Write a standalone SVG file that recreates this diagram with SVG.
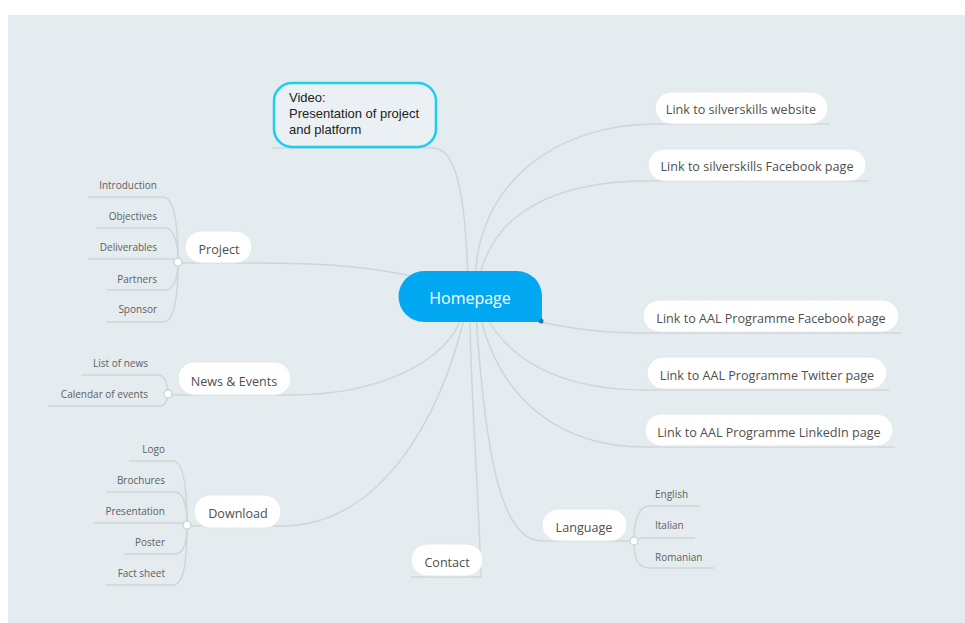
<svg xmlns="http://www.w3.org/2000/svg" width="965" height="623" viewBox="0 0 965 623">
<style>
.c{fill:none;stroke:#cfd6da;stroke-width:1.5}
.pill{fill:#ffffff;stroke:#e3e8eb;stroke-width:1}
.t{font-family:"Open Sans","Noto Sans",sans-serif;font-size:12.6px;fill:#4f4f4f}
.s{font-family:"Open Sans","Noto Sans",sans-serif;font-size:10px;fill:#606060}
.dot{fill:#ffffff;stroke:#cfd6da;stroke-width:1.5}
</style>
<rect x="8" y="15" width="957" height="608" fill="#e4ecef"/>
<g id="connectors">
<path class="c" d="M272,148 H433 C455,148 466,190 468,285"/>
<path class="c" d="M475,285 C475,180 560,124 655,124 H830"/>
<path class="c" d="M478,285 C490,210 560,181 648,181 H868"/>
<path class="c" d="M182,263 H252 C320,263 370,266 420,278"/>
<path class="c" d="M172,395 H291 C380,395 450,360 462,315"/>
<path class="c" d="M191,526 H281 C380,526 440,420 465,315"/>
<path class="c" d="M411,577 H481 C478,480 470,380 470,315"/>
<path class="c" d="M630,541 H542 C500,541 485,450 476,315"/>
<path class="c" d="M480,315 C500,400 560,447 645,447 H895"/>
<path class="c" d="M485,315 C510,360 560,390 647,390 H889"/>
<path class="c" d="M540,322 C570,328 600,333 643,333 H901"/>
<path class="c" d="M88,197 H163 C172,197 178,215 178,262"/>
<path class="c" d="M96,228 H165 C173,228 178,240 178,262"/>
<path class="c" d="M88,259 H170 Q176,259 178,262"/>
<path class="c" d="M107,290 H165 C173,290 178,280 178,262"/>
<path class="c" d="M106,322 H163 C172,322 178,305 178,262"/>
<path class="c" d="M81,375 H158 C165,375 168,385 168,394"/>
<path class="c" d="M48,406 H160 C165,406 168,400 168,394"/>
<path class="c" d="M129,461 H173 C182,461 187,480 187,525"/>
<path class="c" d="M106,492 H175 C183,492 187,505 187,525"/>
<path class="c" d="M94,523 H187"/>
<path class="c" d="M124,554 H175 C183,554 187,545 187,525"/>
<path class="c" d="M106,585 H173 C182,585 187,570 187,525"/>
<path class="c" d="M634,541 C634,520 638,506 650,506 H700"/>
<path class="c" d="M634,541 C634,540 638,538 645,538 H695"/>
<path class="c" d="M634,541 C634,560 638,568 650,568 H714"/>
</g>
<g id="homepage">
<path d="M424,271 H517 A25,25 0 0 1 542,296 V322 H424 A25.5,25.5 0 0 1 424,271 Z" fill="#02a8f2"/>
<circle cx="541" cy="321" r="2.5" fill="#0a7fc0"/>
<text x="470" y="304" text-anchor="middle" font-family="'Open Sans','Noto Sans',sans-serif" font-size="16" fill="#ffffff">Homepage</text>
</g>
<g id="video">
<rect x="274" y="83" width="162" height="64" rx="18" fill="#eaf0f3" stroke="#1ecdf4" stroke-width="2.5"/>
<text font-family="'Liberation Sans',Arial,sans-serif" font-size="13" fill="#222222"><tspan x="289" y="102">Video:</tspan><tspan x="289" y="118">Presentation of project</tspan><tspan x="289" y="134">and platform</tspan></text>
</g>
<g id="project">
<rect class="pill" x="185" y="231" width="67" height="32" rx="16"/>
<text class="t" x="219" y="254" text-anchor="middle">Project</text>
<circle class="dot" cx="178" cy="262" r="4"/>
</g>
<g id="introduction"><text class="s" x="157" y="189" text-anchor="end">Introduction</text></g>
<g id="objectives"><text class="s" x="157" y="220" text-anchor="end">Objectives</text></g>
<g id="deliverables"><text class="s" x="157" y="251" text-anchor="end">Deliverables</text></g>
<g id="partners"><text class="s" x="157" y="283" text-anchor="end">Partners</text></g>
<g id="sponsor"><text class="s" x="157" y="313" text-anchor="end">Sponsor</text></g>
<g id="news">
<rect class="pill" x="178" y="362" width="113" height="33" rx="16.5"/>
<text class="t" x="234" y="386" text-anchor="middle">News &amp; Events</text>
<circle class="dot" cx="168" cy="394" r="4"/>
</g>
<g id="listnews"><text class="s" x="148" y="367" text-anchor="end">List of news</text></g>
<g id="calendar"><text class="s" x="148" y="398" text-anchor="end">Calendar of events</text></g>
<g id="download">
<rect class="pill" x="194" y="495" width="87" height="33" rx="16.5"/>
<text class="t" x="238" y="518" text-anchor="middle">Download</text>
<circle class="dot" cx="187" cy="525" r="4"/>
</g>
<g id="logo"><text class="s" x="165" y="453" text-anchor="end">Logo</text></g>
<g id="brochures"><text class="s" x="165" y="484" text-anchor="end">Brochures</text></g>
<g id="presentation"><text class="s" x="165" y="515" text-anchor="end">Presentation</text></g>
<g id="poster"><text class="s" x="165" y="546" text-anchor="end">Poster</text></g>
<g id="factsheet"><text class="s" x="165" y="577" text-anchor="end">Fact sheet</text></g>
<g id="contact">
<rect class="pill" x="411" y="544" width="72" height="32" rx="16"/>
<text class="t" x="447" y="567" text-anchor="middle">Contact</text>
</g>
<g id="language">
<rect class="pill" x="542" y="509" width="85" height="32" rx="16"/>
<text class="t" x="584" y="532" text-anchor="middle">Language</text>
<circle class="dot" cx="634" cy="541" r="4"/>
</g>
<g id="english"><text class="s" x="655" y="498">English</text></g>
<g id="italian"><text class="s" x="655" y="529">Italian</text></g>
<g id="romanian"><text class="s" x="655" y="561">Romanian</text></g>
<g id="link1">
<rect class="pill" x="655" y="92" width="173" height="32" rx="16"/>
<text class="t" x="741" y="114" text-anchor="middle">Link to silverskills website</text>
</g>
<g id="link2">
<rect class="pill" x="648" y="149" width="218" height="32" rx="16"/>
<text class="t" x="757" y="171" text-anchor="middle">Link to silverskills Facebook page</text>
</g>
<g id="link3">
<rect class="pill" x="643" y="300" width="256" height="32" rx="16"/>
<text class="t" x="771" y="323" text-anchor="middle">Link to AAL Programme Facebook page</text>
</g>
<g id="link4">
<rect class="pill" x="647" y="357" width="240" height="32" rx="16"/>
<text class="t" x="767" y="380" text-anchor="middle">Link to AAL Programme Twitter page</text>
</g>
<g id="link5">
<rect class="pill" x="645" y="414" width="248" height="32" rx="16"/>
<text class="t" x="769" y="437" text-anchor="middle">Link to AAL Programme LinkedIn page</text>
</g>
</svg>
